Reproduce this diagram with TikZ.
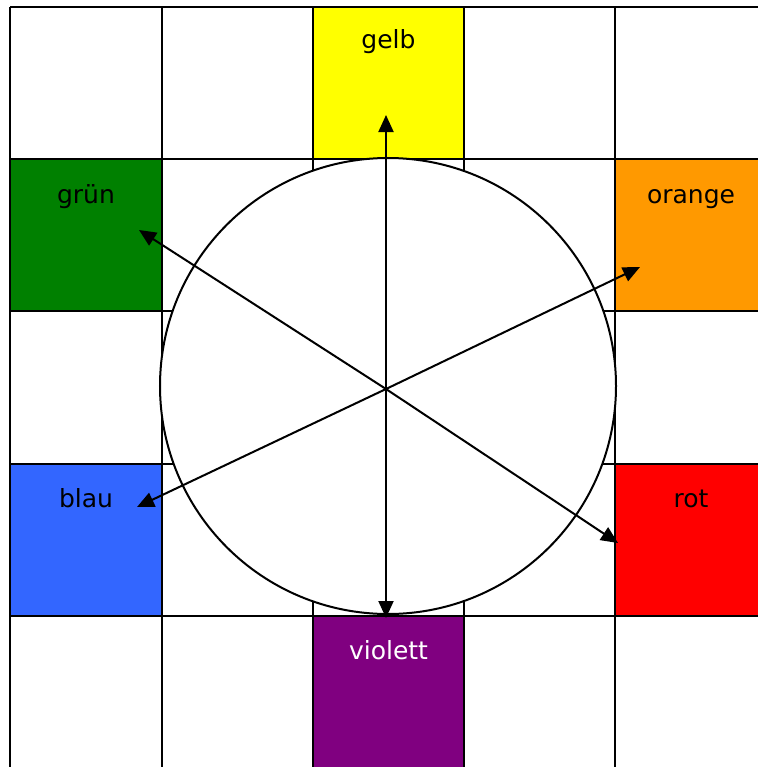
\documentclass[tikz,border=0pt]{standalone}
\usepackage{fontspec}
\setmainfont{DejaVu Sans}
\usetikzlibrary{arrows.meta}
\definecolor{cgelb}{RGB}{255,255,0}
\definecolor{cgruen}{RGB}{0,128,0}
\definecolor{corange}{RGB}{255,153,0}
\definecolor{cblau}{RGB}{51,102,255}
\definecolor{crot}{RGB}{255,0,0}
\definecolor{cviolett}{RGB}{128,0,128}
\tikzset{
  cell/.style={draw=none, minimum size=152bp, inner sep=0pt, outer sep=0pt},
  lbl/.style={anchor=base, inner sep=0pt, font=\fontsize{25bp}{30bp}\selectfont},
  gridline/.style={line width=2.4bp},
  arr/.style={line width=2bp, -{Triangle[length=17bp,width=15bp]}},
}
\begin{document}
\begin{tikzpicture}[x=1bp,y=-1bp]
\useasboundingbox (0,0) rectangle (758,767);
% coloured cells
\node[cell, fill=cgelb] (gelb) at (388.5,83) {};
\node[cell, fill=cgruen] (gruen) at (86,235) {};
\node[cell, fill=corange] (orange) at (691,235) {};
\node[cell, fill=cblau] (blau) at (86,540) {};
\node[cell, fill=crot] (rot) at (691,540) {};
\node[cell, fill=cviolett] (violett) at (388.5,692) {};
% grid
\foreach \x in {10,162,313,464,615} \draw[gridline] (\x,7) -- (\x,770);
\foreach \y in {7,159,311,464,616} \draw[gridline] (10,\y) -- (770,\y);
% circle
\node[circle, draw, line width=2bp, fill=white, minimum size=456bp, inner sep=0pt] (kreis) at (388,386) {};
% arrows
\coordinate (ctr) at (386,389);
\coordinate (tgelb) at (386,115);
\coordinate (tviolett) at (386,618);
\coordinate (tgruen) at (139,230);
\coordinate (torange) at (640,267);
\coordinate (tblau) at (137,507);
\coordinate (trot) at (618,543);
\foreach \t in {tgelb,tviolett,tgruen,torange,tblau,trot} \draw[arr] (ctr) -- (\t);
% labels
\node[lbl] (lgelb) at ([yshift=-42bp]gelb.north) {gelb};
\node[lbl] (lgruen) at ([yshift=-44bp]gruen.north) {grün};
\node[lbl] (lorange) at ([yshift=-44bp]orange.north) {orange};
\node[lbl] (lblau) at ([yshift=-43bp]blau.north) {blau};
\node[lbl] (lrot) at ([yshift=-43bp]rot.north) {rot};
\node[lbl, text=white] (lviolett) at ([yshift=-43bp]violett.north) {violett};
\end{tikzpicture}
\end{document}
